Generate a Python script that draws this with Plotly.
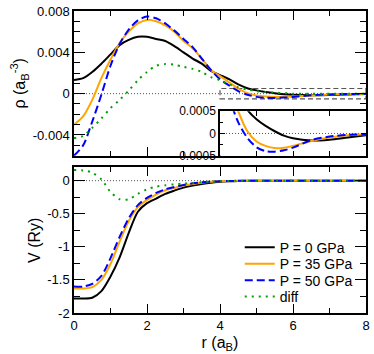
import plotly.graph_objects as go

# ---------------- data ----------------
r = [0, 0.25, 0.5, 0.75, 1.0, 1.25, 1.5, 1.75, 2.0, 2.25, 2.5, 2.75, 3.0, 3.25, 3.5,
     3.75, 4.0, 4.25, 4.5, 4.75, 5.0, 5.25, 5.5, 5.75, 6.0, 6.5, 7.0, 7.5, 8.0]

rho_p0 = [0.00133, 0.0015, 0.0021, 0.0029, 0.0038, 0.0047, 0.0052, 0.0055, 0.0055, 0.0053,
          0.0051, 0.0046, 0.0040, 0.0034, 0.0029, 0.0022, 0.0018, 0.0014, 0.0009, 0.00053,
          0.00032, 0.00017, 0.00005, -0.00005, -0.00011, -0.00016, -0.00014, -0.00009, -0.00004]
rho_p35 = [-0.0030, -0.0022, -0.0006, 0.0015, 0.0033, 0.0049, 0.0060, 0.0068, 0.00714, 0.0070,
           0.0066, 0.0060, 0.0051, 0.0044, 0.0034, 0.0023, 0.0017, 0.0011, 0.0005, 0.00005,
           -0.00018, -0.00028, -0.00033, -0.00032, -0.00028, -0.00017, -0.00009, -0.00004, -0.00002]
rho_p50 = [-0.0060, -0.0050, -0.0027, -0.0001, 0.0027, 0.0048, 0.0062, 0.0071, 0.00746, 0.0073,
           0.0068, 0.0061, 0.0053, 0.0045, 0.0034, 0.0023, 0.0014, 0.0008, 0.00025, -0.0001,
           -0.00031, -0.0004, -0.00041, -0.00038, -0.00032, -0.00015, -0.00007, -0.00003, -0.00002]
rho_diff = [-0.0043, -0.0041, -0.0033, -0.0024, -0.0014, -0.0006, 0.0003, 0.0013, 0.0021, 0.0027,
            0.00286, 0.0028, 0.0026, 0.0024, 0.0021, 0.0016, 0.0013, 0.0009, 0.0006, 0.0004,
            0.00025, 0.00015, 0.0001, 0.00005, 0.0, 0.0, 0.0, 0.0, 0.0]

v_p0 = [-1.78, -1.78, -1.77, -1.67, -1.45, -1.16, -0.79, -0.47, -0.34, -0.27,
        -0.20, -0.15, -0.105, -0.075, -0.05, -0.03, -0.018, -0.01, -0.005, -0.002,
        0, 0, 0, 0, 0, 0, 0, 0, 0]
v_p35 = [-1.63, -1.63, -1.61, -1.50, -1.26, -0.92, -0.61, -0.40, -0.29, -0.21,
         -0.145, -0.11, -0.075, -0.05, -0.03, -0.018, -0.01, -0.006, -0.003, -0.001,
         0, 0, 0, 0, 0, 0, 0, 0, 0]
v_p50 = [-1.60, -1.60, -1.56, -1.44, -1.17, -0.85, -0.57, -0.37, -0.26, -0.185,
         -0.13, -0.095, -0.065, -0.04, -0.025, -0.015, -0.008, -0.005, -0.002, -0.001,
         0, 0, 0, 0, 0, 0, 0, 0, 0]
v_diff = [0.16, 0.155, 0.12, 0.02, -0.17, -0.28, -0.28, -0.20, -0.13, -0.09,
          -0.07, -0.055, -0.045, -0.035, -0.025, -0.015, -0.008, -0.004, -0.002, -0.001,
          0, 0, 0, 0, 0, 0, 0, 0, 0]

names = ["P = 0 GPa", "P = 35 GPa", "P = 50 GPa", "diff"]
colors = ["#000000", "#FFA500", "#0000FF", "#00A000"]
dashes = ["solid", "solid", "8px,4px", "2px,5px"]

rho_tick_vals = [-0.004, 0, 0.004, 0.008]
rho_tick_text = ["-0.004", "0", "0.004", "0.008"]
v_tick_vals = [-2, -1.5, -1, -0.5, 0]
v_tick_text = ["-2", "-1.5", "-1", "-0.5", "0"]
inset_tick_vals = [-0.0005, 0, 0.0005]
inset_tick_text = ["-0.0005", "0", "0.0005"]
r_tick_vals = [0, 2, 4, 6, 8]

FONT = "Liberation Sans, Arial, sans-serif"

fig = go.Figure()

rho_series = [rho_p0, rho_p35, rho_p50, rho_diff]
v_series = [v_p0, v_p35, v_p50, v_diff]
legend_ids = ["legend", "legend2", "legend3", "legend4"]

for i in range(4):
    fig.add_trace(go.Scatter(x=r, y=rho_series[i], mode="lines", xaxis="x", yaxis="y",
                             line=dict(color=colors[i], width=2, dash=dashes[i], shape="spline", smoothing=0.8),
                             showlegend=False, hoverinfo="skip"))
for i in range(4):
    fig.add_trace(go.Scatter(x=r, y=v_series[i], mode="lines", xaxis="x2", yaxis="y2", name=names[i],
                             line=dict(color=colors[i], width=2, dash=dashes[i], shape="spline", smoothing=0.8),
                             showlegend=True, legend=legend_ids[i], hoverinfo="skip"))
for i in range(3):
    fig.add_trace(go.Scatter(x=r, y=rho_series[i], mode="lines", xaxis="x3", yaxis="y3",
                             line=dict(color=colors[i], width=2, dash=dashes[i], shape="spline", smoothing=0.8),
                             showlegend=False, hoverinfo="skip", cliponaxis=True))

axis_common = dict(showline=True, linecolor="black", linewidth=1.5, mirror="ticks",
                   ticks="inside", tickcolor="black", tickwidth=1.2, showgrid=False,
                   zeroline=False, tickfont=dict(family=FONT, size=13, color="black"))

top_dom = [0.521, 1.0]
bot_dom = [0.0, 0.482]
inset_dom_y = [0.521, 0.668]

legend_y = [0.216, 0.162, 0.1075, 0.053]
legend_layout = {}
for i, lid in enumerate(legend_ids):
    legend_layout[lid] = dict(x=0.5676, y=legend_y[i], xanchor="left", yanchor="middle",
                              bgcolor="rgba(0,0,0,0)", borderwidth=0,
                              font=dict(family=FONT, size=14, color="black"))

fig.update_layout(
    width=374, height=354,
    margin=dict(l=74, r=4, t=6, b=41),
    paper_bgcolor="white", plot_bgcolor="white",
    font=dict(family=FONT, color="black"),
    xaxis=dict(domain=[0, 1], range=[0, 8], anchor="y", tickvals=r_tick_vals, showticklabels=False,
               ticklen=9, minor=dict(dtick=1, tick0=0, ticks="inside", ticklen=5, tickcolor="black"),
               **axis_common),
    yaxis=dict(domain=top_dom, range=[-0.006, 0.008], anchor="x", tickvals=rho_tick_vals,
               ticktext=rho_tick_text, ticklen=11,
               minor=dict(dtick=0.001, tick0=0, ticks="inside", ticklen=6, tickcolor="black"),
               title=dict(text="ρ (a<sub>B</sub><sup>-3</sup>)", font=dict(family=FONT, size=16), standoff=3),
               **axis_common),
    xaxis2=dict(domain=[0, 1], range=[0, 8], anchor="y2", tickvals=r_tick_vals, ticklen=9,
                minor=dict(dtick=1, tick0=0, ticks="inside", ticklen=5, tickcolor="black"),
                title=dict(text="r (a<sub>B</sub>)", font=dict(family=FONT, size=16), standoff=4),
                **axis_common),
    yaxis2=dict(domain=bot_dom, range=[-2, 0.2], anchor="x2", tickvals=v_tick_vals, ticktext=v_tick_text,
                ticklen=11, minor=dict(dtick=0.25, tick0=0, ticks="inside", ticklen=6, tickcolor="black"),
                title=dict(text="V (Ry)", font=dict(family=FONT, size=16), standoff=3),
                **axis_common),
    xaxis3=dict(domain=[0.5, 1], range=[4, 8], anchor="y3", tickvals=[5, 6, 7], showticklabels=False,
                ticklen=5, **axis_common),
    yaxis3=dict(domain=inset_dom_y, range=[-0.0005, 0.0005], anchor="x3", tickvals=inset_tick_vals,
                ticktext=inset_tick_text, ticklen=5,
                minor=dict(dtick=0.00025, tick0=0, ticks="inside", ticklen=3, tickcolor="black"),
                **{k: v for k, v in axis_common.items() if k != "tickfont"},
                tickfont=dict(family=FONT, size=12, color="black")),
    shapes=[
        dict(type="line", xref="x", yref="y", x0=0, x1=8, y0=0, y1=0, layer="below",
             line=dict(color="#555555", width=1, dash="1px,2px")),
        dict(type="line", xref="x2", yref="y2", x0=0, x1=8, y0=0, y1=0, layer="below",
             line=dict(color="#555555", width=1, dash="1px,2px")),
        dict(type="line", xref="x3", yref="y3", x0=4, x1=8, y0=0, y1=0, layer="below",
             line=dict(color="#555555", width=1, dash="1px,2px")),
        dict(type="rect", xref="x", yref="y", x0=4.0, x1=8, y0=-0.0005, y1=0.0005, layer="below",
             line=dict(color="#555555", width=1.2, dash="5px,3px")),
    ],
    **legend_layout,
)

fig.write_html("out.html", config={"displayModeBar": False},
               post_script="document.body.style.margin='0';document.body.style.overflow='hidden';")
